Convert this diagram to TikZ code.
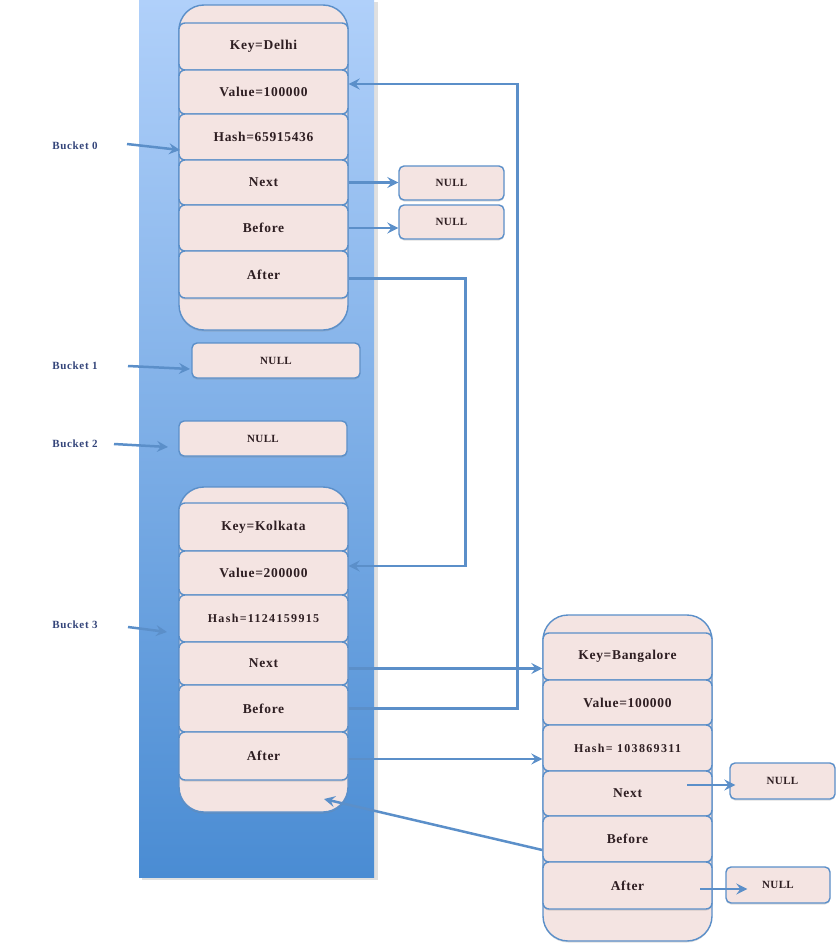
\documentclass[tikz,border=0pt]{standalone}
\usepackage{fontspec}
\setmainfont{Liberation Serif}
\usetikzlibrary{arrows.meta,shadows,calc}
\definecolor{cellfill}{HTML}{F4E4E2}
\definecolor{lineblue}{HTML}{5B8FC9}
\definecolor{coltop}{HTML}{B0D0FA}
\definecolor{colbot}{HTML}{4A8CD3}
\definecolor{txt}{HTML}{2E1E22}
\definecolor{lbl}{HTML}{34457A}
\begin{document}
\begin{tikzpicture}[x=1pt,y=-1pt,
  cellbox/.style={draw=lineblue, line width=1.4pt, fill=cellfill, rounded corners=6pt,
     minimum width=169pt, inner sep=0pt, text=txt,
     font=\fontsize{13.5}{15}\selectfont\bfseries\addfontfeatures{LetterSpace=5},
     drop shadow={opacity=0.25, shadow xshift=0pt, shadow yshift=-1.5pt}},
  hashfont/.style={font=\fontsize{12}{14}\selectfont\bfseries\addfontfeatures{LetterSpace=11}},
  container/.style={draw=lineblue, line width=1.4pt, fill=cellfill, rounded corners=25pt,
     minimum width=169pt, inner sep=0pt,
     drop shadow={opacity=0.25, shadow xshift=0pt, shadow yshift=-1.5pt}},
  nullbox/.style={draw=lineblue, line width=1.4pt, fill=cellfill, rounded corners=5pt,
     inner sep=0pt, text=txt, font=\fontsize{11}{13}\selectfont\bfseries\addfontfeatures{LetterSpace=3},
     drop shadow={opacity=0.25, shadow xshift=0pt, shadow yshift=-1.5pt}},
  bucket/.style={text=lbl, font=\fontsize{11}{13}\selectfont\bfseries\addfontfeatures{LetterSpace=6}, inner sep=0pt},
  arr/.style={draw=lineblue, line width=2.5pt, -{Stealth[length=11pt,width=11pt,inset=4pt]}}
]
\useasboundingbox (0,0) rectangle (840,950);
% blue column
\fill[black,opacity=0.12] (142,2) rectangle (378,880);
\shade[top color=coltop, bottom color=colbot] (139,0) rectangle (374,877);

% ---------- Delhi ----------
\node[container, minimum height=325pt] (dbox) at (263.5,167.5) {};
\node[cellbox, minimum height=47pt] (dKey) at (263.5,46.5) {\raisebox{-2pt}{Key=Delhi}};
\node[cellbox, minimum height=44pt] (dValue) at (263.5,92) {\raisebox{-2pt}{Value=100000}};
\node[cellbox, minimum height=46pt] (dHash) at (263.5,137) {\raisebox{-2pt}{Hash=65915436}};
\node[cellbox, minimum height=45pt] (dNext) at (263.5,182.5) {\raisebox{-2pt}{Next}};
\node[cellbox, minimum height=46pt] (dBefore) at (263.5,228) {\raisebox{-1pt}{Before}};
\node[cellbox, minimum height=47pt] (dAfter) at (263.5,274.5) {\raisebox{-2pt}{After}};

\node[nullbox, minimum width=105pt, minimum height=34pt] (dNextNull) at (451.5,183) {NULL};
\node[nullbox, minimum width=105pt, minimum height=34pt] (dBeforeNull) at (451.5,222) {NULL};

% ---------- Bucket 1, 2 ----------
\node[nullbox, minimum width=168pt, minimum height=35pt] (b1Null) at (276,360.5) {NULL};
\node[nullbox, minimum width=168pt, minimum height=35pt] (b2Null) at (263,438.5) {NULL};

% ---------- Kolkata ----------
\node[container, minimum height=325pt] (kbox) at (263.5,649.5) {};
\node[cellbox, minimum height=48pt] (kKey) at (263.5,527) {\raisebox{-1pt}{Key=Kolkata}};
\node[cellbox, minimum height=44pt] (kValue) at (263.5,573) {\raisebox{-2pt}{Value=200000}};
\node[cellbox, minimum height=47pt, hashfont] (kHash) at (263.5,618.5) {Hash=1124159915};
\node[cellbox, minimum height=43pt] (kNext) at (263.5,663.5) {\raisebox{-2pt}{Next}};
\node[cellbox, minimum height=47pt] (kBefore) at (263.5,708.5) {\raisebox{-1pt}{Before}};
\node[cellbox, minimum height=48pt] (kAfter) at (263.5,756) {\raisebox{-2pt}{After}};

% ---------- Bangalore ----------
\node[container, minimum height=326pt] (bbox) at (627.5,778) {};
\node[cellbox, minimum height=47pt] (bKey) at (627.5,656.5) {\raisebox{-1pt}{Key=Bangalore}};
\node[cellbox, minimum height=45pt] (bValue) at (627.5,702.5) {\raisebox{-3pt}{Value=100000}};
\node[cellbox, minimum height=46pt, hashfont] (bHash) at (627.5,748) {Hash= 103869311};
\node[cellbox, minimum height=45pt] (bNext) at (627.5,793.5) {\raisebox{-2pt}{Next}};
\node[cellbox, minimum height=46pt] (bBefore) at (627.5,839) {\raisebox{-1pt}{Before}};
\node[cellbox, minimum height=47pt] (bAfter) at (627.5,885.5) {\raisebox{-2pt}{After}};

\node[nullbox, minimum width=105pt, minimum height=36pt] (bNextNull) at (782.5,781) {NULL};
\node[nullbox, minimum width=104pt, minimum height=36pt] (bAfterNull) at (778,885) {NULL};

% ---------- bucket labels ----------
\node[bucket] (L0) at (75,146) {Bucket 0};
\node[bucket] (L1) at (75,366) {Bucket 1};
\node[bucket] (L2) at (75,444) {Bucket 2};
\node[bucket] (L3) at (75,625) {Bucket 3};

\coordinate (s0) at (127,144);
\coordinate (t0) at (180,150);
\coordinate (s1) at (128,366);
\coordinate (t1) at (190,369);
\coordinate (s2) at (114,444);
\coordinate (t2) at (168,447);
\coordinate (s3) at (128,627);
\coordinate (t3) at (167,632);
\draw[arr] (s0) -- (t0);
\draw[arr] (s1) -- (t1);
\draw[arr] (s2) -- (t2);
\draw[arr] (s3) -- (t3);

% ---------- connectors ----------
\draw[arr] (dNext.east) -- (dNext.east -| dNextNull.west);
\draw[arr] (dBefore.east) -- (dBefore.east -| dBeforeNull.west);
\draw[arr] ([yshift=-4pt]dAfter.east) -- ++(117,0) |- ([yshift=7pt]kValue.east);
\draw[arr] (kBefore.east) -- ++(169,0) |- ([yshift=8pt]dValue.east);
\draw[arr] ([yshift=-5pt]kNext.east) -- ([yshift=-5pt]kNext.east -| bKey.west);
\draw[arr] ([yshift=-3pt]kAfter.east) -- ([yshift=-3pt]kAfter.east -| bHash.west);
\coordinate (ktip) at (324,799);
\draw[arr] ([yshift=-11pt]bBefore.west) -- (ktip);
\coordinate (bn) at (687,785);
\coordinate (ba) at (700,889);
\draw[arr] (bn) -- ([xshift=6pt]bn -| bNextNull.west);
\draw[arr] (ba) -- ([xshift=22pt]ba -| bAfterNull.west);
\end{tikzpicture}
\end{document}
